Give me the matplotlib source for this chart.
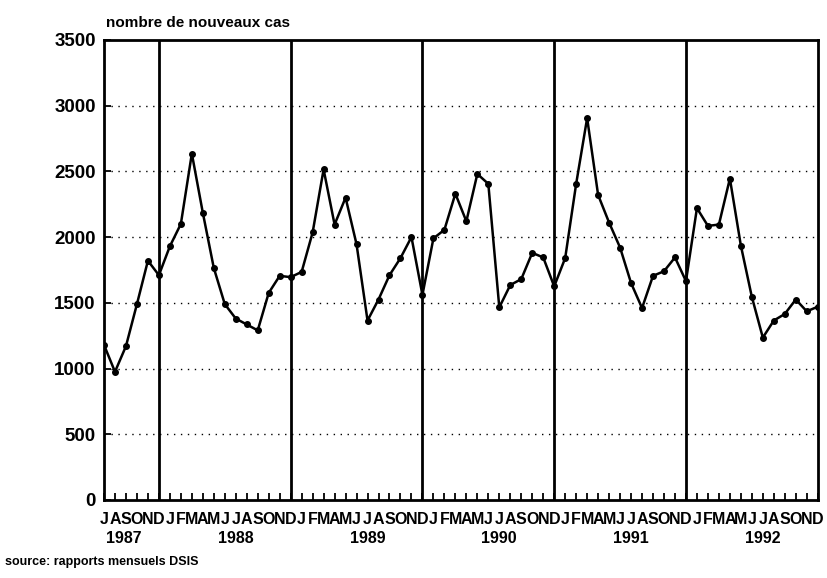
import numpy as np
import matplotlib
matplotlib.use("Agg")
import matplotlib.pyplot as plt

plt.rcParams['font.family'] = ['Liberation Sans', 'DejaVu Sans']

# monthly new cases, Jul 1987 -> Dec 1992
cases_1987 = [1180, 975, 1170, 1490, 1820, 1710]
cases_1988 = [1930, 2100, 2635, 2185, 1765, 1490, 1380, 1335, 1290, 1575, 1705, 1695]
cases_1989 = [1735, 2035, 2515, 2095, 2300, 1945, 1365, 1525, 1710, 1840, 2000, 1560]
cases_1990 = [1990, 2055, 2330, 2120, 2480, 2405, 1465, 1635, 1680, 1880, 1845, 1625]
cases_1991 = [1840, 2405, 2905, 2320, 2110, 1920, 1650, 1460, 1705, 1740, 1845, 1665]
cases_1992 = [2220, 2085, 2095, 2445, 1935, 1545, 1235, 1365, 1415, 1525, 1435, 1470]

years = ['1987', '1988', '1989', '1990', '1991', '1992']
month_letters = list('JFMAMJJASOND')
y_ticks = [0, 500, 1000, 1500, 2000, 2500, 3000, 3500]

cases = cases_1987 + cases_1988 + cases_1989 + cases_1990 + cases_1991 + cases_1992
x = np.arange(len(cases))
labels = month_letters[6:] + month_letters * 5

fig = plt.figure(figsize=(8.28, 5.78), dpi=100)
ax = fig.add_axes([0.1256, 0.135, 0.862, 0.796])

# dotted grid
for v in y_ticks[1:-1]:
    ax.axhline(v, color='black', lw=1.0, ls=(0, (1, 4)), zorder=1)

# year separators at each December
for i in range(5, len(cases) - 1, 12):
    ax.axvline(x[i], color='black', lw=2.0, zorder=2)

ax.plot(x, cases, color='black', lw=1.8, marker='o', ms=4, zorder=3)

ax.set_xlim(0, len(cases) - 1)
ax.set_ylim(0, 3500)
ax.set_yticks(y_ticks)
ax.set_yticklabels([str(v) for v in y_ticks], fontsize=13.5, fontweight='bold')
ax.set_xticks(x)
ax.set_xticklabels(labels, fontsize=11.5, fontweight='bold')
ax.tick_params(axis='both', direction='in', length=5, width=1.3)
ax.tick_params(axis='y', pad=6)
ax.tick_params(axis='x', pad=9)

for s in ax.spines.values():
    s.set_linewidth(2.0)

# year labels under July of each year
year_pos = [1.8] + [12 * k + 12 for k in range(5)]
for yr, p in zip(years, year_pos):
    ax.text(p, -0.068, yr, transform=ax.get_xaxis_transform(),
            ha='center', va='top', fontsize=11.5, fontweight='bold')

fig.text(0.128, 0.96, 'nombre de nouveaux cas', fontsize=11,
         fontweight='bold', ha='left', va='center')
fig.text(0.006, 0.027, 'source: rapports mensuels DSIS', fontsize=9,
         fontweight='bold', ha='left', va='center')

fig.savefig('out.png', dpi=100)
